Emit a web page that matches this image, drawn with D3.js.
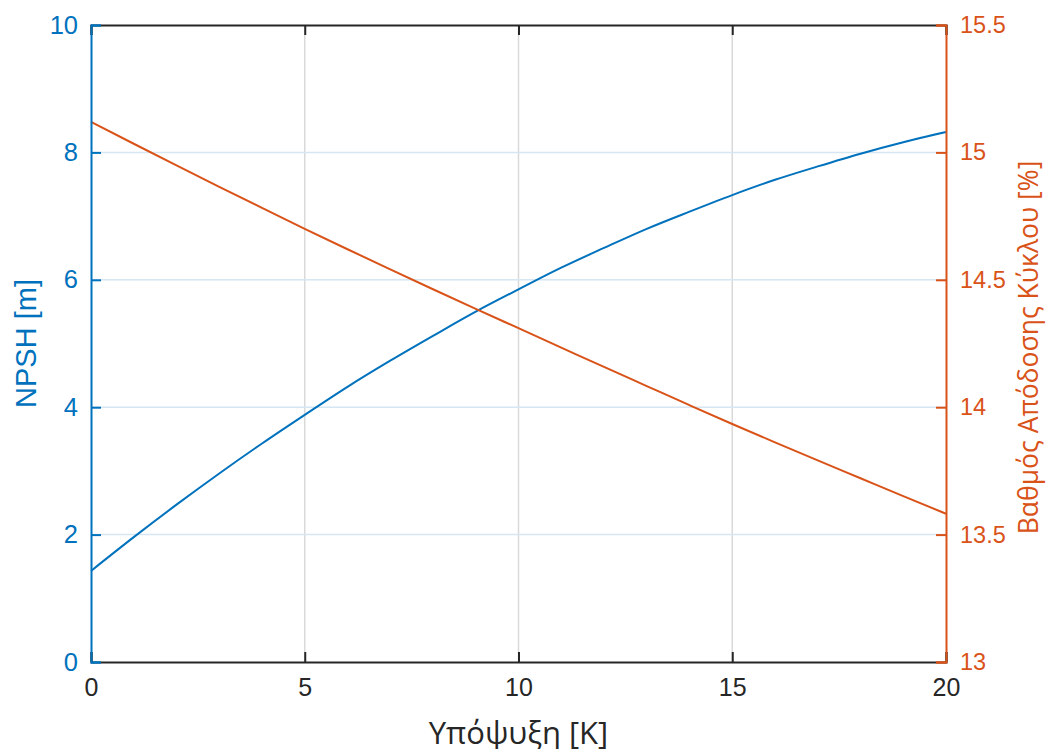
<!DOCTYPE html>
<html>
<head>
<meta charset="utf-8">
<script src="https://cdn.jsdelivr.net/npm/d3@7"></script>
<style>
  body { margin: 0; background: #fff; }
  text { font-family: "Liberation Sans", Arial, sans-serif; }
</style>
</head>
<body>
<div id="chart-area"></div>
<script>
// subcooling [K]
var subcool = [0, 1, 2, 3, 4, 5, 6, 7, 8, 9, 10, 11, 12, 13, 14, 15, 16, 17, 18, 19, 20];
// NPSH [m] (left axis)
var npsh = [1.43, 1.96, 2.47, 2.96, 3.43, 3.88, 4.32, 4.73, 5.12, 5.50, 5.85,
            6.19, 6.50, 6.80, 7.07, 7.33, 7.57, 7.78, 7.98, 8.16, 8.32];
// cycle efficiency [%] (right axis)
var eff = [15.120, 15.034, 14.949, 14.865, 14.782, 14.700, 14.620, 14.541, 14.463, 14.386, 14.310,
           14.234, 14.158, 14.083, 14.008, 13.934, 13.862, 13.791, 13.721, 13.651, 13.582];

var xTicks = [0, 5, 10, 15, 20];
var yLeftTicks = [0, 2, 4, 6, 8, 10];
var yRightTicks = [13, 13.5, 14, 14.5, 15, 15.5];

var blue = "#0072BD", orange = "#D95319", dark = "#262626";

var W = 1046, H = 749;
var margin = {left: 91, right: 100, top: 25, bottom: 87};
var iw = W - margin.left - margin.right,
    ih = H - margin.top - margin.bottom;

var svg = d3.select("#chart-area")
    .append("svg")
        .attr("width", W)
        .attr("height", H);

var g = svg.append("g")
    .attr("transform", "translate(" + margin.left + "," + margin.top + ")");

var x = d3.scaleLinear().domain([0, 20]).range([0, iw]);
var yL = d3.scaleLinear().domain([0, 10]).range([ih, 0]);
var yR = d3.scaleLinear().domain([13, 15.5]).range([ih, 0]);

// grid lines
g.selectAll(".vgrid")
    .data(xTicks.slice(1, -1))
    .enter().append("line")
        .attr("x1", d => x(d)).attr("x2", d => x(d))
        .attr("y1", 0).attr("y2", ih)
        .attr("stroke", "#d9d9d9")
        .attr("stroke-width", 1.5);

g.selectAll(".hgrid")
    .data(yLeftTicks.slice(1, -1))
    .enter().append("line")
        .attr("x1", 0).attr("x2", iw)
        .attr("y1", d => yL(d)).attr("y2", d => yL(d))
        .attr("stroke", "#d6e6f3")
        .attr("stroke-width", 1.5);

// data lines
var lineL = d3.line().x((d, i) => x(subcool[i])).y(d => yL(d)).curve(d3.curveMonotoneX);
var lineR = d3.line().x((d, i) => x(subcool[i])).y(d => yR(d)).curve(d3.curveMonotoneX);

g.append("path")
    .datum(npsh)
    .attr("d", lineL)
    .attr("fill", "none")
    .attr("stroke", blue)
    .attr("stroke-width", 2);

g.append("path")
    .datum(eff)
    .attr("d", lineR)
    .attr("fill", "none")
    .attr("stroke", orange)
    .attr("stroke-width", 2);

// bottom axis
var xAxis = d3.axisBottom(x).tickValues(xTicks).tickSize(-10).tickPadding(16);
var gx = g.append("g")
    .attr("transform", "translate(0," + ih + ")")
    .call(xAxis);
gx.select(".domain").attr("stroke", dark).attr("stroke-width", 2);
gx.selectAll(".tick line").attr("stroke", dark).attr("stroke-width", 2);
gx.selectAll(".tick text")
    .attr("fill", dark)
    .style("font-size", "25px");

// top axis (ticks only)
var xTop = d3.axisTop(x).tickValues(xTicks).tickSize(-10).tickFormat("");
var gt = g.append("g").call(xTop);
gt.select(".domain").attr("stroke", dark).attr("stroke-width", 2);
gt.selectAll(".tick line").attr("stroke", dark).attr("stroke-width", 2);

// left axis
var yAxisL = d3.axisLeft(yL).tickValues(yLeftTicks).tickSize(-10).tickPadding(13);
var gl = g.append("g").call(yAxisL);
gl.select(".domain").attr("stroke", blue).attr("stroke-width", 2);
gl.selectAll(".tick line").attr("stroke", blue).attr("stroke-width", 2);
gl.selectAll(".tick text")
    .attr("fill", blue)
    .style("font-size", "25.5px");

// right axis
var yAxisR = d3.axisRight(yR).tickValues(yRightTicks).tickSize(-10).tickPadding(14)
    .tickFormat(d3.format("~g"));
var gr = g.append("g")
    .attr("transform", "translate(" + iw + ",0)")
    .call(yAxisR);
gr.select(".domain").attr("stroke", orange).attr("stroke-width", 2);
gr.selectAll(".tick line").attr("stroke", orange).attr("stroke-width", 2);
gr.selectAll(".tick text")
    .attr("fill", orange)
    .style("font-size", "23.5px");

// axis labels
svg.append("text")
    .attr("x", margin.left + iw / 2)
    .attr("y", 744)
    .attr("text-anchor", "middle")
    .attr("fill", dark)
    .style("font-family", "'Open Sans', sans-serif")
    .style("font-size", "31px")
    .text("Υπόψυξη [K]");

svg.append("text")
    .attr("transform", "translate(36," + (margin.top + ih / 2) + ") rotate(-90)")
    .attr("text-anchor", "middle")
    .attr("fill", blue)
    .style("font-size", "29px")
    .text("NPSH [m]");

svg.append("text")
    .attr("transform", "translate(1038," + (margin.top + ih / 2 + 4) + ") rotate(-90)")
    .attr("text-anchor", "middle")
    .attr("fill", orange)
    .style("font-family", "'Open Sans', sans-serif")
    .style("font-size", "26.5px")
    .text("Βαθμός Απόδοσης Κύκλου [%]");
</script>
</body>
</html>
